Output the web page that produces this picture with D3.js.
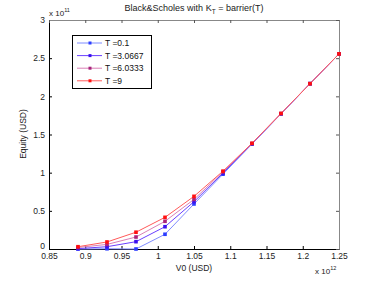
<!DOCTYPE html>
<html><head><meta charset="utf-8">
<script src="https://cdn.jsdelivr.net/npm/d3@7"></script>
<style>body{margin:0;background:#fff;} text{font-family:"Liberation Sans",Arial,sans-serif;}</style>
</head><body>
<svg id="c" width="374" height="281"></svg>
<script>
const v0 = [0.89, 0.93, 0.97, 1.01, 1.05, 1.09, 1.13, 1.17, 1.21, 1.25];
const seriesNames = ["T =0.1", "T =3.0667", "T =6.0333", "T =9"];
const eqT01   = [0.000, 0.003, 0.000, 0.193, 0.590, 0.980, 1.375, 1.770, 2.166, 2.556];
const eqT3067 = [0.005, 0.030, 0.096, 0.292, 0.620, 0.995, 1.378, 1.772, 2.166, 2.556];
const eqT6033 = [0.020, 0.060, 0.157, 0.363, 0.650, 1.010, 1.382, 1.774, 2.166, 2.556];
const eqT9    = [0.030, 0.092, 0.220, 0.415, 0.690, 1.020, 1.385, 1.776, 2.166, 2.556];
const xTicks = [0.85, 0.9, 0.95, 1, 1.05, 1.1, 1.15, 1.2, 1.25];
const yTicks = [0, 0.5, 1, 1.5, 2, 2.5, 3];
const lineColors = ["#7f8cff", "#6a40ff", "#d97fb6", "#ff5a5a"];
const markColors = ["#2b3cff", "#3a10ee", "#a8237a", "#ff1010"];
const series = [eqT01, eqT3067, eqT6033, eqT9];

const svg = d3.select("#c");
const L = 49, R = 339, T = 20, B = 249;
const x = d3.scaleLinear().domain([0.85, 1.25]).range([L, R]);
const y = d3.scaleLinear().domain([0, 3]).range([B, T]);

svg.append("rect").attr("x", L).attr("y", T).attr("width", R - L).attr("height", B - T)
  .attr("fill", "none").attr("stroke", "#888").attr("stroke-width", 1).attr("shape-rendering","crispEdges");

const xa = svg.append("g").attr("transform", `translate(0,${B})`)
  .call(d3.axisBottom(x).tickValues(xTicks).tickSizeInner(-3).tickSizeOuter(0).tickPadding(4).tickFormat(d3.format("")));
const ya = svg.append("g").attr("transform", `translate(${L},0)`)
  .call(d3.axisLeft(y).tickValues(yTicks).tickSizeInner(-3).tickSizeOuter(0).tickPadding(4).tickFormat(d3.format("")));
const xt = svg.append("g").attr("transform", `translate(0,${T})`)
  .call(d3.axisTop(x).tickValues(xTicks).tickSizeInner(-3).tickSizeOuter(0).tickFormat(""));
const yr = svg.append("g").attr("transform", `translate(${R},0)`)
  .call(d3.axisRight(y).tickValues(yTicks).tickSizeInner(-3).tickSizeOuter(0).tickFormat(""));
[xt, yr].forEach(g => { g.select(".domain").attr("stroke", "#888"); g.selectAll(".tick line").attr("stroke", "#555"); });
[xa, ya].forEach(g => {
  g.select(".domain").attr("stroke", "#000");
  g.selectAll("text").attr("font-size", 8.5).attr("fill", "#222").attr("font-family", "Liberation Sans, Arial, sans-serif");
});
xa.selectAll("text").attr("dy", "0.68em");
ya.selectAll("text").filter(d => d === 0).attr("dy", "-0.05em");

const line = d3.line().x((d, i) => x(v0[i])).y(d => y(d));
series.forEach((s, k) => {
  svg.append("path").datum(s).attr("d", line).attr("fill", "none")
    .attr("stroke", lineColors[k]).attr("stroke-width", 1);
  svg.append("g").selectAll("rect").data(s).join("rect")
    .attr("x", (d, i) => x(v0[i]) - 1.8).attr("y", d => y(d) - 1.8)
    .attr("width", 3.6).attr("height", 3.6).attr("fill", markColors[k]);
});

svg.append("text").attr("x", 194).attr("y", 11).attr("text-anchor", "middle").attr("font-size", 9).attr("fill","#222")
  .html('Black&amp;Scholes with K<tspan dy="3" font-size="6.5">T</tspan><tspan dy="-3"> = barrier(T)</tspan>');
svg.append("text").attr("x", 49).attr("y", 16).attr("font-size", 8).attr("fill","#222")
  .html('x 10<tspan dy="-4" font-size="5.5">11</tspan>');
svg.append("text").attr("x", 315).attr("y", 274).attr("font-size", 8).attr("fill","#222")
  .html('x 10<tspan dy="-4" font-size="5.5">12</tspan>');
svg.append("text").attr("x", 194).attr("y", 271).attr("text-anchor", "middle").attr("font-size", 8.5).attr("fill","#222").text("V0 (USD)");
svg.append("text").attr("transform", "translate(26,134) rotate(-90)").attr("text-anchor", "middle").attr("font-size", 8.5).attr("fill","#222").text("Equity (USD)");

const lg = svg.append("g");
lg.append("rect").attr("x", 72.5).attr("y", 35.5).attr("width", 79).attr("height", 53)
  .attr("fill", "#fff").attr("stroke", "#000").attr("stroke-width", 1);
seriesNames.forEach((n, k) => {
  const yy = 43 + k * 12.6;
  lg.append("line").attr("x1", 77).attr("x2", 102).attr("y1", yy).attr("y2", yy).attr("stroke", lineColors[k]).attr("stroke-width", 1);
  lg.append("rect").attr("x", 88.5).attr("y", yy - 1.5).attr("width", 3).attr("height", 3).attr("fill", markColors[k]);
  lg.append("text").attr("x", 105).attr("y", yy + 3).attr("font-size", 8.5).attr("fill","#111").text(n);
});
</script>
</body></html>
